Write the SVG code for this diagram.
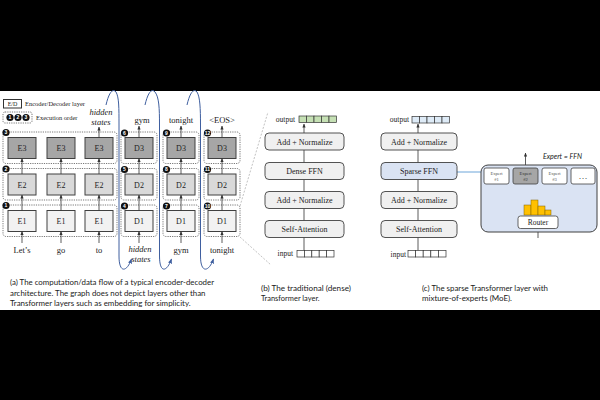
<svg xmlns="http://www.w3.org/2000/svg" width="600" height="400" viewBox="0 0 600 400">
<defs>
<marker id="ah" viewBox="0 0 10 10" refX="9" refY="5" markerWidth="4" markerHeight="4" markerUnits="userSpaceOnUse" orient="auto"><path d="M0,1 L10,5 L0,9 z" fill="#333"/></marker>
<marker id="ahb" viewBox="0 0 10 10" refX="9" refY="5" markerWidth="5" markerHeight="5" markerUnits="userSpaceOnUse" orient="auto"><path d="M0,1 L10,5 L0,9 z" fill="#3f5f9f"/></marker>
</defs>
<style>
.layer{stroke:#404040;stroke-width:1}
.l3{fill:#a6a6a6}.l2{fill:#d9d9d9}.l1{fill:#f2f2f2}
.grp{fill:none;stroke:#555;stroke-width:0.8;stroke-dasharray:1.2 1.1}
.serif{font-family:"Liberation Serif","DejaVu Serif",serif;fill:#222}
.lt{font-size:8px;text-anchor:middle}
.lbl{font-size:8.5px;text-anchor:middle}
.it{font-style:italic}
.num{fill:#111}
.numt{font-family:"Liberation Sans",Arial,sans-serif;font-size:5px;font-weight:bold;fill:#fff;text-anchor:middle}
.arr{stroke:#333;stroke-width:0.8;fill:none;marker-end:url(#ah)}
.ln{stroke:#333;stroke-width:0.8;fill:none}
.blue{stroke:#3f5f9f;stroke-width:1;fill:none;marker-end:url(#ahb)}
.zoom{stroke:#999;stroke-width:0.6;stroke-dasharray:2 1.5;fill:none}
.blk{fill:#f0f0f0;stroke:#404040;stroke-width:0.9}
.bt{font-size:8px;text-anchor:middle}
.cell{stroke:#333;stroke-width:0.7}
.cap{font-family:Lato,"Liberation Sans",sans-serif;font-size:7.6px;fill:#222}
.exp{fill:#fff;stroke:#404040;stroke-width:0.8}
.et{font-size:4.6px;text-anchor:middle;fill:#555}
.bar{fill:#ffc000;stroke:#7f6000;stroke-width:0.5}
</style>
<rect x="0" y="0" width="600" height="400" fill="#000"/>
<rect x="0" y="91" width="600" height="219" fill="#fff"/>

<g id="legend">
<rect x="3.5" y="99.5" width="18" height="8.5" fill="#fff" stroke="#333" stroke-width="1"/>
<text class="serif" x="12.5" y="106" font-size="6" text-anchor="middle">E/D</text>
<text class="serif" x="25" y="105.8" font-size="6.5" textLength="60" lengthAdjust="spacingAndGlyphs">Encoder/Decoder layer</text>
<rect x="3" y="112" width="29" height="11" rx="2" class="grp"/>
<circle class="num" cx="10" cy="117.5" r="3.6"/><text class="numt" x="10" y="119.3">1</text>
<circle class="num" cx="18" cy="117.5" r="3.6"/><text class="numt" x="18" y="119.3">2</text>
<circle class="num" cx="26" cy="117.5" r="3.6"/><text class="numt" x="26" y="119.3">3</text>
<text class="serif" x="36" y="119.8" font-size="6.5" textLength="41.5" lengthAdjust="spacingAndGlyphs">Execution order</text>
</g>

<g id="encoder">
<rect class="grp" x="3" y="132" width="114" height="31.5" rx="3"/>
<rect class="grp" x="3" y="168.5" width="114" height="31.5" rx="3"/>
<rect class="grp" x="3" y="205" width="114" height="31.5" rx="3"/>
<circle class="num" cx="6" cy="132.5" r="3.6"/><text class="numt" x="6" y="134.3">3</text>
<circle class="num" cx="6" cy="169" r="3.6"/><text class="numt" x="6" y="170.8">2</text>
<circle class="num" cx="6" cy="205.5" r="3.6"/><text class="numt" x="6" y="207.3">1</text>
<g id="e3a"><rect class="layer l3" x="8" y="137.5" width="28" height="21"/><text class="serif lt" x="22" y="151">E3</text></g>
<g id="e3b"><rect class="layer l3" x="47" y="137.5" width="28" height="21"/><text class="serif lt" x="61" y="151">E3</text></g>
<g id="e3c"><rect class="layer l3" x="85" y="137.5" width="28" height="21"/><text class="serif lt" x="99" y="151">E3</text></g>
<g id="e2a"><rect class="layer l2" x="8" y="174" width="28" height="21"/><text class="serif lt" x="22" y="187.5">E2</text></g>
<g id="e2b"><rect class="layer l2" x="47" y="174" width="28" height="21"/><text class="serif lt" x="61" y="187.5">E2</text></g>
<g id="e2c"><rect class="layer l2" x="85" y="174" width="28" height="21"/><text class="serif lt" x="99" y="187.5">E2</text></g>
<g id="e1a"><rect class="layer l1" x="8" y="210.5" width="28" height="21"/><text class="serif lt" x="22" y="224">E1</text></g>
<g id="e1b"><rect class="layer l1" x="47" y="210.5" width="28" height="21"/><text class="serif lt" x="61" y="224">E1</text></g>
<g id="e1c"><rect class="layer l1" x="85" y="210.5" width="28" height="21"/><text class="serif lt" x="99" y="224">E1</text></g>
<text class="serif lbl" x="22" y="252.5">Let’s</text>
<text class="serif lbl" x="61" y="252.5">go</text>
<text class="serif lbl" x="99" y="252.5">to</text>
<text class="serif lbl it" x="101" y="114.5">hidden</text>
<text class="serif lbl it" x="101" y="124.5">states</text>
</g>

<g id="decoder">
<rect class="grp" x="121" y="132" width="36" height="31.5" rx="3"/>
<rect class="grp" x="121" y="168.5" width="36" height="31.5" rx="3"/>
<rect class="grp" x="121" y="205" width="36" height="31.5" rx="3"/>
<rect class="grp" x="163" y="132" width="36" height="31.5" rx="3"/>
<rect class="grp" x="163" y="168.5" width="36" height="31.5" rx="3"/>
<rect class="grp" x="163" y="205" width="36" height="31.5" rx="3"/>
<rect class="grp" x="204" y="132" width="36" height="31.5" rx="3"/>
<rect class="grp" x="204" y="168.5" width="36" height="31.5" rx="3"/>
<rect class="grp" x="204" y="205" width="36" height="31.5" rx="3"/>
<circle class="num" cx="124.5" cy="133" r="3.6"/><text class="numt" x="124.5" y="134.8">6</text>
<circle class="num" cx="124.5" cy="169.5" r="3.6"/><text class="numt" x="124.5" y="171.3">5</text>
<circle class="num" cx="124.5" cy="206" r="3.6"/><text class="numt" x="124.5" y="207.8">4</text>
<circle class="num" cx="166.5" cy="133" r="3.6"/><text class="numt" x="166.5" y="134.8">9</text>
<circle class="num" cx="166.5" cy="169.5" r="3.6"/><text class="numt" x="166.5" y="171.3">8</text>
<circle class="num" cx="166.5" cy="206" r="3.6"/><text class="numt" x="166.5" y="207.8">7</text>
<circle class="num" cx="207.5" cy="133" r="3.6"/><text class="numt" x="207.5" y="134.8" font-size="4">12</text>
<circle class="num" cx="207.5" cy="169.5" r="3.6"/><text class="numt" x="207.5" y="171.2" font-size="4">11</text>
<circle class="num" cx="207.5" cy="206" r="3.6"/><text class="numt" x="207.5" y="207.7" font-size="4">10</text>
<g id="d3a"><rect class="layer l3" x="125" y="137.5" width="28" height="21"/><text class="serif lt" x="139" y="151">D3</text></g>
<g id="d3b"><rect class="layer l3" x="167" y="137.5" width="28" height="21"/><text class="serif lt" x="181" y="151">D3</text></g>
<g id="d3c"><rect class="layer l3" x="208" y="137.5" width="28" height="21"/><text class="serif lt" x="222" y="151">D3</text></g>
<g id="d2a"><rect class="layer l2" x="125" y="174" width="28" height="21"/><text class="serif lt" x="139" y="187.5">D2</text></g>
<g id="d2b"><rect class="layer l2" x="167" y="174" width="28" height="21"/><text class="serif lt" x="181" y="187.5">D2</text></g>
<g id="d2c"><rect class="layer l2" x="208" y="174" width="28" height="21"/><text class="serif lt" x="222" y="187.5">D2</text></g>
<g id="d1a"><rect class="layer l1" x="125" y="210.5" width="28" height="21"/><text class="serif lt" x="139" y="224">D1</text></g>
<g id="d1b"><rect class="layer l1" x="167" y="210.5" width="28" height="21"/><text class="serif lt" x="181" y="224">D1</text></g>
<g id="d1c"><rect class="layer l1" x="208" y="210.5" width="28" height="21"/><text class="serif lt" x="222" y="224">D1</text></g>
<text class="serif lbl" x="142" y="123">gym</text>
<text class="serif lbl" x="181" y="123">tonight</text>
<text class="serif lbl" x="222" y="123">&lt;EOS&gt;</text>
<text class="serif lbl it" x="140" y="251.5">hidden</text>
<text class="serif lbl it" x="141" y="262">states</text>
<text class="serif lbl" x="181" y="252.5">gym</text>
<text class="serif lbl" x="222" y="252.5">tonight</text>
</g>

<g id="connectors">
<path class="arr" d="M22,243 V231.5"/><path class="arr" d="M22,210.5 V195"/><path class="arr" d="M22,174 V158.5"/>
<path class="arr" d="M61,243 V231.5"/><path class="arr" d="M61,210.5 V195"/><path class="arr" d="M61,174 V158.5"/>
<path class="arr" d="M99,243 V231.5"/><path class="arr" d="M99,210.5 V195"/><path class="arr" d="M99,174 V158.5"/><path class="arr" d="M99,137.5 V127"/>
<path class="arr" d="M139,243 V231.5"/><path class="arr" d="M139,210.5 V195"/><path class="arr" d="M139,174 V158.5"/><path class="arr" d="M139,137.5 V126"/>
<path class="arr" d="M181,243 V231.5"/><path class="arr" d="M181,210.5 V195"/><path class="arr" d="M181,174 V158.5"/><path class="arr" d="M181,137.5 V126"/>
<path class="arr" d="M222,243 V231.5"/><path class="arr" d="M222,210.5 V195"/><path class="arr" d="M222,174 V158.5"/><path class="arr" d="M222,137.5 V126"/>
<path class="blue" d="M106,105 C109,92 113,88 116,92 C119,97 119,108 119,125 L119,256 C119,274 127,272 131.5,259"/>
<path class="blue" d="M145,105 C148,92 152,88 155,92 C159,97 159.5,108 159.5,125 L159.5,256 C159.5,274 167,272 171.5,259"/>
<path class="blue" d="M187,105 C190,92 194,88 197,92 C200,97 200.5,108 200.5,125 L200.5,256 C200.5,274 209,272 213.5,259"/>
<path class="zoom" d="M240,206 L268,112"/>
<path class="zoom" d="M240,237 L271,265"/>
<path class="arr" d="M304,133 V124"/>
<path class="ln" d="M304,150 V162.5 M304,179.5 V191.5 M304,208.5 V220.5 M304,237.5 V250.5"/>
<path class="arr" d="M418,133 V124"/>
<path class="ln" d="M418,150 V162.5 M418,179.5 V191.5 M418,208.5 V220.5 M418,237.5 V250.5"/>
<path d="M457,172 H481" stroke="#5b9bd5" stroke-width="0.9"/>
<path class="arr" d="M525.5,168 V153"/>
<path class="arr" d="M526.5,205 V184.5"/>
<path class="arr" d="M538,238 V228.5"/>
</g>

<g id="dense-layer">
<text class="serif" x="295" y="122" font-size="7.5" text-anchor="end">output</text>
<g fill="#c5e0b4"><rect class="cell" x="299" y="116" width="7.5" height="6.5"/><rect class="cell" x="306.5" y="116" width="7.5" height="6.5"/><rect class="cell" x="314" y="116" width="7.5" height="6.5"/><rect class="cell" x="321.5" y="116" width="7.5" height="6.5"/><rect class="cell" x="329" y="116" width="7.5" height="6.5"/></g>
<g id="b-addnorm2"><rect class="blk" x="265" y="133" width="79" height="17" rx="4"/><text class="serif bt" x="304.5" y="144.5">Add + Normalize</text></g>
<g id="b-ffn"><rect class="blk" x="265" y="162.5" width="79" height="17" rx="4"/><text class="serif bt" x="304.5" y="174">Dense FFN</text></g>
<g id="b-addnorm1"><rect class="blk" x="265" y="191.5" width="79" height="17" rx="4"/><text class="serif bt" x="304.5" y="203">Add + Normalize</text></g>
<g id="b-attn"><rect class="blk" x="265" y="220.5" width="79" height="17" rx="4"/><text class="serif bt" x="304.5" y="232">Self-Attention</text></g>
<text class="serif" x="293" y="256" font-size="7.5" text-anchor="end">input</text>
<g fill="#fff"><rect class="cell" x="297" y="250.5" width="7.4" height="6.5"/><rect class="cell" x="304.4" y="250.5" width="7.4" height="6.5"/><rect class="cell" x="311.8" y="250.5" width="7.4" height="6.5"/><rect class="cell" x="319.2" y="250.5" width="7.4" height="6.5"/><rect class="cell" x="326.6" y="250.5" width="7.4" height="6.5"/></g>
</g>

<g id="sparse-layer">
<text class="serif" x="409" y="122" font-size="7.5" text-anchor="end">output</text>
<g fill="#deebf7"><rect class="cell" x="412" y="116.5" width="7.5" height="6.5"/><rect class="cell" x="419.5" y="116.5" width="7.5" height="6.5"/><rect class="cell" x="427" y="116.5" width="7.5" height="6.5"/><rect class="cell" x="434.5" y="116.5" width="7.5" height="6.5"/><rect class="cell" x="442" y="116.5" width="7.5" height="6.5"/></g>
<g id="c-addnorm2"><rect class="blk" x="381" y="133" width="76" height="17" rx="4"/><text class="serif bt" x="419" y="144.5">Add + Normalize</text></g>
<g id="c-ffn"><rect class="blk" x="381" y="162.5" width="76" height="17" rx="4" fill="#dae3f3" style="fill:#dae3f3"/><text class="serif bt" x="419" y="174">Sparse FFN</text></g>
<g id="c-addnorm1"><rect class="blk" x="381" y="191.5" width="76" height="17" rx="4"/><text class="serif bt" x="419" y="203">Add + Normalize</text></g>
<g id="c-attn"><rect class="blk" x="381" y="220.5" width="76" height="17" rx="4"/><text class="serif bt" x="419" y="232">Self-Attention</text></g>
<text class="serif" x="406" y="256.5" font-size="7.5" text-anchor="end">input</text>
<g fill="#fff"><rect class="cell" x="408" y="250.5" width="7.6" height="6.5"/><rect class="cell" x="415.6" y="250.5" width="7.6" height="6.5"/><rect class="cell" x="423.2" y="250.5" width="7.6" height="6.5"/><rect class="cell" x="430.8" y="250.5" width="7.6" height="6.5"/><rect class="cell" x="438.4" y="250.5" width="7.6" height="6.5"/></g>
</g>

<g id="moe">
<text x="543" y="158.5" font-family="Lato,'Liberation Sans',sans-serif" font-size="7.5" font-style="italic" fill="#222" textLength="39" lengthAdjust="spacingAndGlyphs">Expert = FFN</text>
<rect x="481" y="165" width="116" height="67" rx="7" fill="#dae3f3" stroke="#404040" stroke-width="1"/>
<g id="expert1"><rect class="exp" x="484" y="168" width="25" height="16" rx="2"/><text class="serif et" x="496.5" y="175">Expert</text><text class="serif et" x="496.5" y="181">#1</text></g>
<g id="expert2"><rect class="exp" x="513" y="168" width="25" height="16" rx="2" style="fill:#a6a6a6"/><text class="serif et" x="525.5" y="175" style="fill:#333">Expert</text><text class="serif et" x="525.5" y="181" style="fill:#333">#2</text></g>
<g id="expert3"><rect class="exp" x="542" y="168" width="25" height="16" rx="2"/><text class="serif et" x="554.5" y="175">Expert</text><text class="serif et" x="554.5" y="181">#3</text></g>
<g id="expert-more"><rect class="exp" x="571" y="168" width="24" height="16" rx="2"/><text class="serif" x="583" y="178.5" font-size="9" text-anchor="middle">…</text></g>
<g id="bars"><rect class="bar" x="524" y="205" width="7" height="10"/><rect class="bar" x="531" y="200" width="7" height="15"/><rect class="bar" x="538" y="206" width="7" height="9"/><rect class="bar" x="545" y="210" width="6" height="5"/></g>
<g id="router"><rect class="exp" x="518" y="216" width="40" height="12.5" rx="2.5"/><text class="serif" x="538" y="225" font-size="7.5" text-anchor="middle">Router</text></g>
</g>

<g id="captions">
<text class="cap" x="10" y="285" textLength="204" lengthAdjust="spacingAndGlyphs">(a) The computation/data flow of a typical encoder-decoder</text>
<text class="cap" x="10" y="295.8" textLength="195.5" lengthAdjust="spacingAndGlyphs">architecture. The graph does not depict layers other than</text>
<text class="cap" x="10" y="306" textLength="180.6" lengthAdjust="spacingAndGlyphs">Transformer layers such as embedding for simplicity.</text>
<text class="cap" x="261" y="290.6" textLength="90" lengthAdjust="spacingAndGlyphs">(b) The traditional (dense)</text>
<text class="cap" x="261" y="301" textLength="58.6" lengthAdjust="spacingAndGlyphs">Transformer layer.</text>
<text class="cap" x="422" y="290.6" textLength="126" lengthAdjust="spacingAndGlyphs">(c) The sparse Transformer layer with</text>
<text class="cap" x="422" y="301" textLength="90" lengthAdjust="spacingAndGlyphs">mixture-of-experts (MoE).</text>
</g>
</svg>
